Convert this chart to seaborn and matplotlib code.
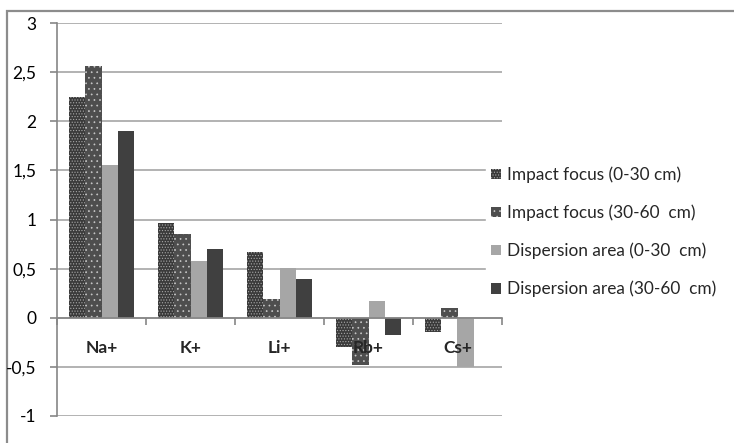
import matplotlib
matplotlib.use("Agg")
import matplotlib.pyplot as plt
import seaborn as sns
import pandas as pd
from matplotlib.patches import Rectangle
from matplotlib.ticker import FuncFormatter, MultipleLocator

categories = ["Na+", "K+", "Li+", "Rb+", "Cs+"]
series = ["Impact focus (0-30 cm)", "Impact focus (30-60  cm)",
          "Dispersion area (0-30  cm)", "Dispersion area (30-60  cm)"]
impact_0_30 = [2.25, 0.96, 0.67, -0.30, -0.14]
impact_30_60 = [2.56, 0.85, 0.19, -0.48, 0.10]
dispersion_0_30 = [1.55, 0.58, 0.51, 0.17, -0.50]
dispersion_30_60 = [1.90, 0.70, 0.39, -0.18, 0.0]
yticks = [-1, -0.5, 0, 0.5, 1, 1.5, 2, 2.5, 3]

values = [impact_0_30, impact_30_60, dispersion_0_30, dispersion_30_60]
rows = []
for s, vals in zip(series, values):
    for c, v in zip(categories, vals):
        rows.append({"ion": c, "series": s, "value": v})
df = pd.DataFrame(rows)

sns.set_style("white")
plt.rcParams["font.family"] = ["Lato", "DejaVu Sans"]
plt.rcParams["hatch.linewidth"] = 0.5

fig = plt.figure(figsize=(7.34, 4.43), dpi=100)
ax = fig.add_axes([57/734, 1-416/443, (502-57)/734, (416-23)/443])

face = ["#3a3a3a", "#4e4e4e", "#a6a6a6", "#404040"]
hatch_col = ["#a8a8a8", "#c8c8c8", "white", "white"]
hatches = ["......", "...", None, None]
sns.barplot(data=df, x="ion", y="value", hue="series", hue_order=series,
            order=categories, palette=face, width=0.73, saturation=1,
            legend=False, ax=ax, errorbar=None)

for cont, fc, hc, h in zip(ax.containers, face, hatch_col, hatches):
    for p in cont.patches:
        p.set_facecolor(fc)
        p.set_edgecolor(hc)
        p.set_linewidth(0)
        if h:
            p.set_hatch(h)

ax.set_ylim(-1, 3)
ax.set_xlim(-0.5, 4.5)
ax.set_yticks(yticks)
ax.yaxis.set_major_formatter(FuncFormatter(lambda v, p: (f"{v:g}").replace(".", ",")))
ax.grid(axis="y", color="#a6a6a6", linewidth=1.2)
ax.set_axisbelow(True)
ax.xaxis.set_zorder(3)
ax.set_xlabel("")
ax.set_ylabel("")

for s in ["top", "right"]:
    ax.spines[s].set_visible(False)
ax.spines["left"].set_color("#868686")
ax.spines["left"].set_linewidth(1.2)
ax.spines["bottom"].set_position(("data", 0))
ax.spines["bottom"].set_color("#868686")
ax.spines["bottom"].set_linewidth(1.2)

ax.tick_params(axis="y", left=True, length=5, color="#868686", width=1.2,
               pad=10, labelsize=12.5, labelcolor="#000000")
ax.tick_params(axis="x", which="major", length=0, pad=16, labelsize=12.5)
ax.set_xticks(range(len(categories)))
ax.set_xticklabels(categories, fontweight="bold")
ax.xaxis.set_minor_locator(MultipleLocator(1, offset=0.5))
ax.tick_params(axis="x", which="minor", bottom=True, length=5, color="#868686", width=1.2)

leg = ax.legend(ax.containers, series, loc="center left",
                bbox_to_anchor=(486/734, 1-232/443), bbox_transform=fig.transFigure,
                frameon=True, fancybox=False, edgecolor="white", facecolor="white",
                framealpha=1, fontsize=12.4, handlelength=0.55, handleheight=0.55,
                handletextpad=0.35, labelspacing=1.25, borderpad=0.3, borderaxespad=0)
leg.set_zorder(5)

fig.patches.append(Rectangle((7/734, -0.2), 1.2, 1.2 - 11/443, transform=fig.transFigure,
                             fill=False, edgecolor="#8c8c8c", linewidth=1.6, zorder=-1))

fig.savefig("out.png", dpi=100)
